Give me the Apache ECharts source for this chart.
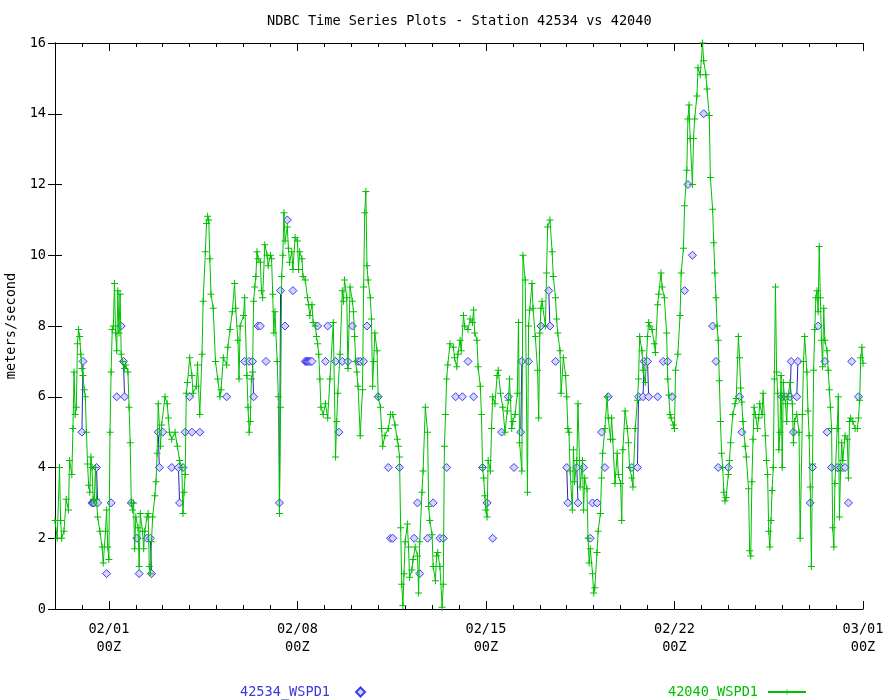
<!DOCTYPE html>
<html><head><meta charset="utf-8">
<script src="https://cdn.jsdelivr.net/npm/echarts@6/dist/echarts.min.js"></script>
<style>html,body{margin:0;padding:0;background:#fff}#c{width:886px;height:700px}</style>
</head><body><div id="c"></div>
<script>
const chartTitle = 'NDBC Time Series Plots - Station 42534 vs 42040';
const yAxisName = 'meters/second';
const seriesNames = ['42534_WSPD1', '42040_WSPD1'];
// hours since 01/30 00Z
const xTickHours = [48, 216, 384, 552, 720];
const xTickLabels = ['02/01\n00Z', '02/08\n00Z', '02/15\n00Z', '02/22\n00Z', '03/01\n00Z'];

const greenHours = [0,2,4,5,6,8,10,12,13,15,16,17,18,19,20,21,22,23,24,25,26,27,28,29,30,31,32,33,34,35,36,37,38,40,42,43,45,46,47,48,49,50,51,52,53,54,55,56,57,58,59,60,62,63,65,66,67,68,69,70,71,72,74,75,76,78,79,80,82,83,84,85,86,87,89,90,91,92,
94,95,98,100,101,102,104,107,109,111,113,114,115,116,117,118,120,122,123,126,127,129,131,132,134,135,136,137,138,139,141,143,145,147,148,150,153,154,156,158,160,161,163,164,165,168,169,171,172,173,174,175,176,177,178,179,180,181,183,
184,185,187,189,190,192,193,194,195,196,198,199,200,201,202,203,204,205,207,208,209,211,212,214,216,217,218,220,221,223,225,226,227,229,230,232,233,234,235,236,237,239,241,243,245,248,250,251,252,254,256,257,258,260,261,263,
265,266,267,268,269,270,272,274,275,276,277,278,279,281,282,283,284,285,287,288,290,291,292,294,297,299,301,303,305,306,307,308,309,310,311,312,314,315,316,318,319,321,323,324,325,327,328,330,332,333,334,336,337,339,340,341,343,345,346,347,348,349,350,352,355,356,358,359,
361,362,364,365,368,370,372,373,374,376,377,379,380,381,382,383,384,385,386,388,389,390,392,394,395,397,399,401,403,404,405,407,408,410,412,413,414,416,417,419,421,422,423,425,426,428,430,431,432,433,434,437,438,439,441,443,444,446,447,448,
450,451,453,455,456,457,458,459,461,462,463,465,466,468,470,471,472,474,475,476,477,479,480,481,483,484,486,487,488,490,492,493,495,496,497,499,501,502,504,505,506,508,510,511,512,514,515,517,519,520,521,
523,524,526,528,529,530,532,534,535,537,538,540,541,543,545,546,547,548,549,551,552,553,555,557,558,560,561,563,564,565,566,568,569,570,572,573,575,577,578,580,581,583,584,586,587,588,589,590,591,592,593,594,595,596,597,598,600,601,602,604,606,607,609,610,611,612,613,615,616,618,619,620,621,622,623,
624,626,627,628,630,631,633,634,635,636,637,638,639,640,641,642,643,644,645,646,647,648,649,650,651,652,653,655,657,658,659,661,663,664,666,667,668,670,671,672,673,674,675,676,677,678,679,680,681,682,683,684,685,686,688,689,690,691,692,693,694,695,697,698,699,700,701,702,704,706,707,708,709,711,713,715,716,717,718,719,720];

const greenValues = [2.5,2.0,4.0,2.5,2.0,2.2,3.1,2.8,4.2,3.8,5.1,6.7,5.5,5.7,7.5,7.9,7.7,7.2,6.8,6.6,6.2,6.0,5.0,4.1,3.5,3.3,4.3,4.0,3.1,3.0,4.0,3.1,2.6,2.2,1.75,1.3,2.2,2.8,1.75,1.4,5.0,6.7,7.9,8.0,9.2,7.8,7.3,9.0,7.8,8.9,7.2,7.0,6.8,6.9,6.7,5.7,4.7,3.0,2.8,3.0,1.7,2.6,2.3,1.2,2.7,2.2,1.7,2.2,2.6,2.7,1.2,1.0,1.9,2.6,3.2,3.6,4.4,5.8,
4.6,5.2,6.0,5.8,5.4,5.0,4.8,5.0,4.6,4.2,4.0,2.7,3.3,3.8,6.1,6.4,7.1,6.6,6.1,6.3,6.9,5.5,7.2,8.7,10.1,10.9,11.1,11.0,9.9,8.9,8.5,7.0,6.5,6.0,6.2,7.1,6.9,7.4,7.9,8.4,9.2,8.5,7.6,6.5,8.0,8.3,8.8,6.6,5.7,5.0,5.3,6.5,6.7,8.7,9.1,9.4,10.1,9.9,9.8,
9.0,8.8,10.3,10.0,9.7,10.0,9.9,8.9,7.8,8.4,7.0,6.0,2.7,5.7,9.4,10.0,11.2,10.4,10.8,10.2,9.8,10.1,9.6,10.5,10.4,9.6,10.1,9.9,9.4,9.3,8.8,8.6,8.3,8.6,8.1,8.0,7.7,7.5,7.2,6.5,5.7,5.5,5.8,5.4,6.5,8.1,4.3,5.3,6.1,7.2,9.0,8.7,9.3,8.8,6.8,9.1,
8.7,8.4,7.7,7.0,6.7,6.3,4.9,6.2,9.1,11.2,11.8,9.7,9.3,8.8,8.2,6.3,7.0,7.8,7.3,6.0,5.7,5.1,4.6,4.9,5.1,5.5,5.5,5.2,4.8,4.6,4.3,2.3,0.7,0.1,1.0,1.9,2.4,1.75,0.9,1.1,1.4,1.75,1.5,0.45,1.9,3.3,3.9,5.7,5.0,2.9,2.5,2.1,1.2,0.8,1.5,1.6,1.2,0.05,0.7,4.6,5.5,6.5,6.9,7.5,7.4,7.1,6.85,7.2,
7.6,7.3,8.3,8.0,7.9,8.2,8.1,8.45,7.8,7.6,6.85,6.3,5.5,4.0,3.7,3.2,2.8,2.6,4.2,3.9,5.1,6.0,5.8,6.6,6.75,6.1,5.7,5.0,5.6,5.9,6.5,5.1,5.3,5.5,6.1,8.1,4.7,3.9,10.0,9.3,3.3,8.0,8.45,9.2,8.5,7.7,6.75,5.4,7.8,8.5,8.7,8.0,9.5,10.8,11.0,10.1,9.4,8.8,8.2,7.8,
7.3,6.1,7.1,6.6,6.0,5.1,5.0,3.9,2.8,4.5,3.6,4.2,5.8,3.45,4.2,2.8,3.7,3.4,2.0,1.3,1.7,1.0,0.45,0.6,1.6,2.2,2.7,3.7,4.4,5.1,6.0,5.4,4.8,5.4,4.8,3.55,4.4,3.8,3.55,2.5,4.5,5.6,5.1,4.7,4.0,3.7,3.45,5.1,5.9,6.5,7.7,
7.3,6.75,6.4,7.7,8.1,8.0,7.9,7.5,7.25,8.6,8.9,9.5,9.1,8.8,7.8,6.5,6.05,5.5,5.4,5.2,5.1,6.75,7.2,8.3,9.5,10.2,11.4,12.4,13.85,14.25,13.3,12.0,13.3,13.85,14.5,15.3,15.1,16.0,15.5,15.1,14.7,13.95,12.2,11.3,10.35,9.5,8.8,8.0,7.6,6.45,5.3,4.4,4.0,3.3,3.05,3.15,3.8,4.2,4.7,5.5,5.8,5.95,7.7,7.1,6.25,5.85,5.3,4.6,4.3,3.4,1.65,1.5,3.6,4.8,5.7,
5.5,5.1,5.4,5.8,5.5,6.1,4.9,4.2,3.8,2.2,1.75,2.5,3.35,4.0,6.5,9.1,6.7,6.1,4.5,5.0,6.6,4.0,6.4,6.0,5.8,5.3,6.0,6.4,5.8,4.7,5.3,5.5,5.0,2.0,5.5,7.0,7.7,6.7,5.6,4.9,3.45,1.2,4.1,6.75,7.9,8.8,9.0,8.4,10.25,8.8,7.6,6.85,8.5,7.6,7.3,6.75,6.2,5.7,5.1,2.3,1.75,3.55,5.1,6.0,2.6,3.9,4.7,4.2,4.9,4.8,3.7,5.3,5.4,5.3,5.1,5.1,5.4,5.9,7.1,7.4,6.95];

const blueHours = [24,25,33,34,35,37,38,46,50,55,59,61,62,68,73,75,82,85,86,92,93,96,104,110,111,114,116,120,122,129,153,169,173,176,177,181,183,188,200,201,205,207,212,223,224,225,226,227,228,229,234,241,243,250,253,256,261,265,270,272,275,278,288,297,299,301,307,320,323,325,332,337,343,346,349,357,363,368,373,381,385,390,398,404,409,415,416,422,433,440,441,446,456,457,465,466,471,477,479,483,487,490,493,514,519,520,524,525,528,529,537,542,546,550,561,564,568,578,586,589,591,600,610,612,648,651,655,656,658,661,662,673,675,680,686,688,692,697,700,704,707,710,716];
const blueValues = [5,7,3,3,3,4,3,1,3,6,8,7,6,3,2,1,2,2,1,5,4,5,4,4,3,4,5,6,5,5,6,7,7,7,6,8,8,7,3,9,8,11,9,7,7,7,7,7,7,7,8,7,8,7,5,7,7,8,7,7,7,8,6,4,2,2,4,2,3,1,2,3,2,2,4,6,6,7,6,4,3,2,5,6,4,5,7,7,8,9,8,7,4,3,4,3,4,2,3,3,5,4,6,4,4,6,6,7,7,6,6,7,7,6,9,12,10,14,8,7,4,4,6,5,6,6,6,7,5,6,7,3,4,8,7,5,4,4,4,4,3,7,6];

const FONT = 'DejaVu Sans Mono, Liberation Mono, monospace';
const FS = 13.6;
const greenColor = '#00c000';
const blueLine = '#2424c0';

const greenData = greenHours.map((h, i) => [h, greenValues[i]]);
const blueData = [];
blueHours.forEach((h, i) => {
  if (i > 0 && h - blueHours[i - 1] > 1) blueData.push([h - 0.5, '-']);
  blueData.push([h, blueValues[i]]);
});

const plusPath = 'path://M3,0H4V7H3ZM0,3H7V4H0Z';
const black = { color: '#000', width: 1 };

const chart = echarts.init(document.getElementById('c'), null, { renderer: 'canvas' });
chart.setOption({
  animation: false,
  backgroundColor: '#fff',
  title: {
    text: chartTitle, left: 262, top: 9,
    textStyle: { fontFamily: FONT, fontSize: FS, fontWeight: 'normal', color: '#000' }
  },
  grid: { left: 55, right: 23, top: 43, bottom: 91, containLabel: false, outerBoundsMode: 'none' },
  legend: [
    {
      data: [{ name: seriesNames[0], icon: 'diamond' }],
      left: 235, top: 680, align: 'right', selectedMode: false,
      itemWidth: 9, itemHeight: 9,
      textStyle: { fontFamily: FONT, fontSize: FS, color: '#3a3ad8', padding: [0, 21, 0, 0] }
    },
    {
      data: [{ name: seriesNames[1] }],
      left: 663, top: 680, align: 'right', selectedMode: false,
      itemWidth: 38, itemHeight: 7,
      textStyle: { fontFamily: FONT, fontSize: FS, color: greenColor, padding: [0, 5, 0, 0] }
    }
  ],
  xAxis: [
    { type: 'value', min: 0, max: 720, interval: 24, position: 'bottom',
      axisLine: { show: true, lineStyle: black }, axisTick: { show: true, inside: true, length: 4, lineStyle: black },
      axisLabel: { show: false }, splitLine: { show: false } },
    { type: 'value', min: 0, max: 720, position: 'bottom',
      axisLine: { show: false }, axisTick: { show: true, inside: true, length: 8, lineStyle: black, customValues: xTickHours },
      axisLabel: { show: true, customValues: xTickHours, margin: 11, lineHeight: 18,
        fontFamily: FONT, fontSize: FS, color: '#000',
        formatter: v => { const k = xTickHours.indexOf(v); return k >= 0 ? xTickLabels[k] : ''; } },
      splitLine: { show: false } },
    { type: 'value', min: 0, max: 720, interval: 24, position: 'top',
      axisLine: { show: true, lineStyle: black }, axisTick: { show: true, inside: true, length: 4, lineStyle: black },
      axisLabel: { show: false }, splitLine: { show: false } },
    { type: 'value', min: 0, max: 720, position: 'top',
      axisLine: { show: false }, axisTick: { show: true, inside: true, length: 8, lineStyle: black, customValues: xTickHours },
      axisLabel: { show: false }, splitLine: { show: false } }
  ],
  yAxis: [
    { type: 'value', min: 0, max: 16, interval: 2, position: 'left',
      name: yAxisName, nameLocation: 'middle', nameGap: 36, nameRotate: 90,
      nameTextStyle: { fontFamily: FONT, fontSize: FS, color: '#000' },
      axisLine: { show: true, lineStyle: black }, axisTick: { show: true, inside: true, length: 7, lineStyle: black },
      axisLabel: { fontFamily: FONT, fontSize: FS, color: '#000', margin: 9 }, splitLine: { show: false } },
    { type: 'value', min: 0, max: 16, interval: 2, position: 'right',
      axisLine: { show: true, lineStyle: black }, axisTick: { show: true, inside: true, length: 7, lineStyle: black },
      axisLabel: { show: false }, splitLine: { show: false } }
  ],
  series: [
    {
      name: seriesNames[0], type: 'line', xAxisIndex: 0, yAxisIndex: 0,
      data: blueData, connectNulls: false, showSymbol: true,
      symbol: 'diamond', symbolSize: 8,
      itemStyle: { color: '#d4d4ff', borderColor: '#3c3cf0', borderWidth: 1 },
      lineStyle: { color: blueLine, width: 1 },
      z: 2
    },
    {
      name: seriesNames[1], type: 'line', xAxisIndex: 0, yAxisIndex: 0,
      data: greenData, showSymbol: true,
      symbol: plusPath, symbolSize: 7,
      itemStyle: { color: greenColor },
      lineStyle: { color: greenColor, width: 1 },
      z: 3
    }
  ]
});
</script></body></html>
